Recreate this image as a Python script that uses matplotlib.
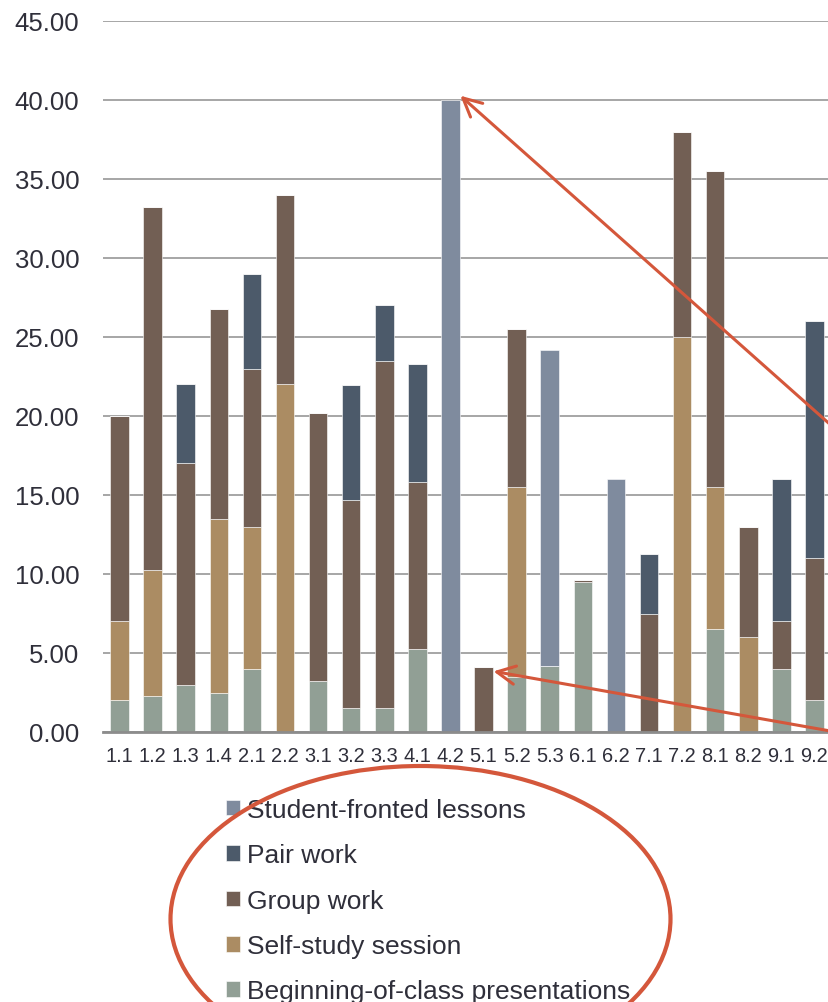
import matplotlib
matplotlib.use("Agg")
import matplotlib.pyplot as plt
from matplotlib.patches import Ellipse
import numpy as np

plt.rcParams['font.family'] = ['Liberation Sans', 'DejaVu Sans']

categories = ['1.1', '1.2', '1.3', '1.4', '2.1', '2.2', '3.1', '3.2', '3.3', '4.1', '4.2',
              '5.1', '5.2', '5.3', '6.1', '6.2', '7.1', '7.2', '8.1', '8.2', '9.1', '9.2']

beginning = [2.0, 2.25, 3.0, 2.5, 4.0, 0, 3.2, 1.5, 1.5, 5.25, 0,
             0, 3.5, 4.2, 9.5, 0, 0, 0, 6.5, 0, 4.0, 2.0]
self_study = [5.0, 8.0, 0, 11.0, 9.0, 22.0, 0, 0, 0, 0, 0,
              0, 12.0, 0, 0, 0, 0, 25.0, 9.0, 6.0, 0, 0]
group_work = [13.0, 23.0, 14.0, 13.25, 10.0, 12.0, 17.0, 13.2, 22.0, 10.6, 0,
              4.1, 10.0, 0, 0.1, 0, 7.5, 13.0, 20.0, 7.0, 3.0, 9.0]
pair_work = [0, 0, 5.0, 0, 6.0, 0, 0, 7.25, 3.5, 7.45, 0,
             0, 0, 0, 0, 0, 3.75, 0, 0, 0, 9.0, 15.0]
student_fronted = [0, 0, 0, 0, 0, 0, 0, 0, 0, 0, 40.0,
                   0, 0, 20.0, 0, 16.0, 0, 0, 0, 0, 0, 0]

series = [
    ('Beginning-of-class presentations', beginning, '#919f95'),
    ('Self-study session', self_study, '#ab8c63'),
    ('Group work', group_work, '#725f54'),
    ('Pair work', pair_work, '#4c5a6a'),
    ('Student-fronted lessons', student_fronted, '#7f8b9e'),
]

W, H = 829, 1003
fig = plt.figure(figsize=(W / 100, H / 100), dpi=100)
ax = fig.add_axes([103 / W, (H - 733) / H, 728 / W, (733 - 22) / H])

x = np.arange(len(categories))
bw = 0.56
bottom = np.zeros(len(categories))
handles = {}
for name, vals, col in series:
    v = np.array(vals, dtype=float)
    b = ax.bar(x, v, bw, bottom=bottom, color=col, edgecolor='white',
               linewidth=0.4, label=name, zorder=3)
    handles[name] = b
    bottom = bottom + v
totals = bottom

ax.set_xlim(-0.5, len(categories) - 0.5)
ax.set_ylim(0, 45)
ax.set_yticks(np.arange(0, 46, 5))
ax.set_yticklabels([f'{t:.2f}' for t in np.arange(0, 46, 5)])
ax.set_xticks(x)
ax.set_xticklabels(categories)
ax.tick_params(axis='y', length=0, pad=17, labelsize=18.5, labelcolor='#2f2f3a')
ax.tick_params(axis='x', length=0, pad=10, labelsize=14.4, labelcolor='#2f2f3a')
ax.grid(axis='y', color='#a6a6a6', linewidth=1.4, zorder=0)
ax.set_axisbelow(True)
for s in ['left', 'right', 'top']:
    ax.spines[s].set_visible(False)
ax.spines['bottom'].set_color('#8c8c8c')
ax.spines['bottom'].set_linewidth(2.0)
ax.spines['bottom'].set_zorder(4)

order = ['Student-fronted lessons', 'Pair work', 'Group work',
         'Self-study session', 'Beginning-of-class presentations']
fs = 19
leg = fig.legend([handles[n] for n in order], order,
                 loc='upper left', bbox_to_anchor=(226 / W, (H - 799) / H),
                 bbox_transform=fig.transFigure, frameon=False,
                 fontsize=fs, handlelength=0.53, handleheight=0.53,
                 handletextpad=0.25, labelspacing=0.81,
                 borderpad=0, borderaxespad=0, labelcolor='#2f2f3a')

red = '#d4573b'
i1 = categories.index('4.2')
i2 = categories.index('5.1')
ax.annotate('', xy=(i1 + bw / 2 + 0.02, totals[i1] + 0.27),
            xytext=(W + 60, H - (424.5 + 60 * 0.888)), textcoords='figure pixels',
            arrowprops=dict(arrowstyle='->,head_length=0.4,head_width=0.2',
                            color=red, lw=2.2, mutation_scale=33,
                            shrinkA=0, shrinkB=0),
            annotation_clip=False, zorder=6)
ax.annotate('', xy=(i2 + bw / 2 + 0.02, totals[i2] - 0.26),
            xytext=(W + 60, H - (731.7 + 60 * 0.178)), textcoords='figure pixels',
            arrowprops=dict(arrowstyle='->,head_length=0.4,head_width=0.2',
                            color=red, lw=2.2, mutation_scale=33,
                            shrinkA=0, shrinkB=0),
            annotation_clip=False, zorder=6)

ell = Ellipse((420.5 / W, (H - 920) / H), 500 / W, 306 / H,
              transform=fig.transFigure, fill=False, edgecolor=red,
              linewidth=3.0, clip_on=False, zorder=7)
fig.add_artist(ell)

fig.savefig('out.png', dpi=100)
